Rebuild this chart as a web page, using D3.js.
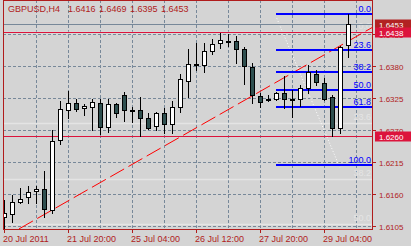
<!DOCTYPE html>
<html>
<head>
<meta charset="utf-8">
<script src="https://cdn.jsdelivr.net/npm/d3@7"></script>
<style>
body { margin: 0; background: #d4d4d4; }
svg { display: block; font-family: "Liberation Sans", Arial, sans-serif; }
</style>
</head>
<body>
<div id="chart"></div>
<script>
// GBPUSD H4 bars, oldest first
var opens  = [1.6120,1.6125,1.6147,1.6154,1.6165,1.6168,1.6132,1.6252,1.6304,1.6316,1.6307,1.6309,1.6316,1.6275,1.6314,1.6331,1.6304,1.6304,1.6290,1.6277,1.6299,1.6280,1.6310,1.6355,1.6383,1.6382,1.6406,1.6419,1.6423,1.6423,1.6410,1.6379,1.6329,1.6324,1.6324,1.6333,1.6323,1.6323,1.6342,1.6367,1.6350,1.6326,1.6273,1.6416];
var highs  = [1.6150,1.6158,1.6171,1.6173,1.6174,1.6200,1.6270,1.6320,1.6337,1.6324,1.6315,1.6323,1.6323,1.6323,1.6316,1.6335,1.6310,1.6326,1.6300,1.6301,1.6307,1.6319,1.6366,1.6410,1.6419,1.6419,1.6427,1.6436,1.6435,1.6432,1.6413,1.6385,1.6333,1.6330,1.6336,1.6362,1.6338,1.6347,1.6381,1.6373,1.6360,1.6330,1.6414,1.6469];
var lows   = [1.6102,1.6112,1.6144,1.6145,1.6145,1.6121,1.6128,1.6246,1.6291,1.6303,1.6295,1.6270,1.6263,1.6266,1.6293,1.6286,1.6284,1.6260,1.6271,1.6270,1.6264,1.6264,1.6301,1.6327,1.6373,1.6369,1.6401,1.6411,1.6414,1.6386,1.6349,1.6316,1.6310,1.6319,1.6322,1.6307,1.6293,1.6311,1.6333,1.6347,1.6322,1.6260,1.6265,1.6395];
var closes = [1.6128,1.6146,1.6151,1.6164,1.6168,1.6134,1.6251,1.6306,1.6316,1.6306,1.6311,1.6318,1.6275,1.6314,1.6299,1.6304,1.6304,1.6291,1.6274,1.6300,1.6280,1.6310,1.6357,1.6383,1.6383,1.6406,1.6418,1.6425,1.6423,1.6410,1.6380,1.6331,1.6318,1.6324,1.6333,1.6323,1.6321,1.6343,1.6370,1.6353,1.6324,1.6273,1.6413,1.6453];

var timeLabels = ["20 Jul 2011", "21 Jul 20:00", "25 Jul 04:00", "26 Jul 12:00", "27 Jul 20:00", "29 Jul 04:00"];
var timeLabelBars = [0, 8, 16, 24, 32, 40];
var priceTicks = [1.6105, 1.6160, 1.6215, 1.6270, 1.6325, 1.6380, 1.6435];

var headerText = ["GBPUSD,H4", "1.6416", "1.6469", "1.6395", "1.6453"];

var fibLevels = [0, 23.6, 38.2, 50.0, 61.8, 100.0];
var fibHigh = 1.6469, fibLow = 1.6210, fibStartBar = 34;
var ghostLevels = [0, 23.6, 38.2, 50.0];
var ghostHigh = 1.6438, ghostLow = 1.5778;
var ghostAnchors = [[34.1, 1.6462], [42, 1.6205]];

var bidPrice = 1.6453;
var hLinePrices = [1.6438, 1.6260];
var trendAnchors = [[1.875, 1.6100], [46, 1.6446]];

var W = 411, H = 246;
var plotLeft = 3, plotRight = 372, plotTop = 0, plotBottom = 229;
var axisColor = "#b01c1c";

var x = d3.scaleLinear().domain([0, 43]).range([4, 348]);
var y = d3.scaleLinear().domain([1.6105, 1.6435]).range([226, 34]);
function px(v) { return Math.round(v) + 0.5; }

var svg = d3.select("#chart").append("svg")
    .attr("width", W)
    .attr("height", H);

svg.append("rect").attr("width", W).attr("height", H).attr("fill", "#d4d4d4");

svg.append("defs").append("clipPath").attr("id", "plot")
    .append("rect").attr("x", plotLeft).attr("y", plotTop)
    .attr("width", plotRight - plotLeft).attr("height", plotBottom - plotTop);

var plot = svg.append("g").attr("clip-path", "url(#plot)");

// grid
var gridBars = d3.range(4, 48, 4);
plot.selectAll(".vgrid").data(gridBars).enter().append("line")
    .attr("x1", function (d) { return px(x(d)); })
    .attr("x2", function (d) { return px(x(d)); })
    .attr("y1", plotTop).attr("y2", plotBottom)
    .attr("stroke", "#778899").attr("stroke-dasharray", "3,2");

plot.selectAll(".hgrid").data(priceTicks).enter().append("line")
    .attr("x1", plotLeft).attr("x2", plotRight)
    .attr("y1", function (d) { return px(y(d)); })
    .attr("y2", function (d) { return px(y(d)); })
    .attr("stroke", "#778899").attr("stroke-dasharray", "3,2");

// old fibo, drawn nearly in background colour
var ghostColor = "#e4e4e4";
function ghostPrice(l) { return ghostHigh - (ghostHigh - ghostLow) * l / 100; }
plot.selectAll(".ghost").data(ghostLevels).enter().append("line")
    .attr("x1", plotLeft).attr("x2", plotRight)
    .attr("y1", function (d) { return px(y(ghostPrice(d))); })
    .attr("y2", function (d) { return px(y(ghostPrice(d))); })
    .attr("stroke", ghostColor).attr("stroke-width", 1.5);
plot.selectAll(".ghostlabel").data(ghostLevels).enter().append("text")
    .attr("x", 371)
    .attr("y", function (d) { return Math.round(y(ghostPrice(d))) - 3; })
    .attr("text-anchor", "end")
    .attr("font-size", 9)
    .attr("fill", ghostColor)
    .text(function (d) { return d.toFixed(1); });
plot.append("line")
    .attr("x1", x(ghostAnchors[0][0])).attr("y1", y(ghostAnchors[0][1]))
    .attr("x2", x(ghostAnchors[1][0])).attr("y2", y(ghostAnchors[1][1]))
    .attr("stroke", "#ffffff").attr("stroke-dasharray", "1,2");

// bid line
plot.append("line")
    .attr("x1", plotLeft).attr("x2", plotRight)
    .attr("y1", px(y(bidPrice))).attr("y2", px(y(bidPrice)))
    .attr("stroke", "#778899");

// horizontal lines
plot.selectAll(".hline").data(hLinePrices).enter().append("line")
    .attr("x1", plotLeft).attr("x2", plotRight)
    .attr("y1", function (d) { return px(y(d)); })
    .attr("y2", function (d) { return px(y(d)); })
    .attr("stroke", "#dc143c");

// trend line
plot.append("line")
    .attr("x1", x(trendAnchors[0][0])).attr("y1", y(trendAnchors[0][1]))
    .attr("x2", x(trendAnchors[1][0])).attr("y2", y(trendAnchors[1][1]))
    .attr("stroke", "#ff0000").attr("stroke-dasharray", "16,5");

// fibo
function fibPrice(l) { return fibHigh - (fibHigh - fibLow) * l / 100; }
plot.selectAll(".fib").data(fibLevels).enter().append("line")
    .attr("x1", x(fibStartBar)).attr("x2", plotRight)
    .attr("y1", function (d) { return Math.round(y(fibPrice(d))); })
    .attr("y2", function (d) { return Math.round(y(fibPrice(d))); })
    .attr("stroke", "#0000ff").attr("stroke-width", 2);
plot.selectAll(".fiblabel").data(fibLevels).enter().append("text")
    .attr("x", 371)
    .attr("y", function (d) { return Math.round(y(fibPrice(d))) - 2; })
    .attr("text-anchor", "end")
    .attr("font-size", 9)
    .attr("fill", "#0000ff")
    .text(function (d) { return d.toFixed(1); });

// candles
var bars = plot.selectAll(".bar").data(d3.range(opens.length)).enter().append("g");
bars.append("line")
    .attr("x1", function (i) { return px(x(i)); })
    .attr("x2", function (i) { return px(x(i)); })
    .attr("y1", function (i) { return Math.round(y(highs[i])); })
    .attr("y2", function (i) { return Math.round(y(lows[i])) + 1; })
    .attr("stroke", "#000");
bars.append("rect")
    .attr("x", function (i) { return Math.round(x(i)) - 1.5; })
    .attr("y", function (i) { return px(y(Math.max(opens[i], closes[i]))); })
    .attr("width", 4)
    .attr("height", function (i) {
        return Math.max(1, Math.round(y(Math.min(opens[i], closes[i]))) - Math.round(y(Math.max(opens[i], closes[i]))));
    })
    .attr("fill", function (i) {
        if (closes[i] > opens[i]) return "#ffffff";
        if (closes[i] < opens[i]) return "#2f4f4f";
        return "#000";
    })
    .attr("stroke", "#000");

// frame
var frame = svg.append("g").attr("stroke", axisColor).attr("fill", "none");
frame.append("line").attr("x1", plotLeft + 0.5).attr("x2", plotLeft + 0.5).attr("y1", plotTop).attr("y2", plotBottom + 1);
frame.append("line").attr("x1", plotRight + 0.5).attr("x2", plotRight + 0.5).attr("y1", plotTop).attr("y2", plotBottom + 1);
frame.append("line").attr("x1", plotLeft).attr("x2", plotRight + 1).attr("y1", plotBottom + 0.5).attr("y2", plotBottom + 0.5);
frame.append("line").attr("x1", plotLeft).attr("x2", plotRight + 1).attr("y1", plotTop + 0.5).attr("y2", plotTop + 0.5);

// time axis
var tAxis = svg.append("g");
tAxis.selectAll("line").data(timeLabelBars).enter().append("line")
    .attr("x1", function (d) { return px(x(d)); })
    .attr("x2", function (d) { return px(x(d)); })
    .attr("y1", plotBottom).attr("y2", plotBottom + 4)
    .attr("stroke", axisColor);
tAxis.selectAll("text").data(timeLabels).enter().append("text")
    .attr("x", function (d, i) { return Math.round(x(timeLabelBars[i])) - 1; })
    .attr("y", 242)
    .attr("font-size", 9)
    .attr("fill", axisColor)
    .text(function (d) { return d; });

// price axis
var pAxis = svg.append("g");
pAxis.selectAll("line").data(priceTicks).enter().append("line")
    .attr("x1", plotRight).attr("x2", plotRight + 4)
    .attr("y1", function (d) { return px(y(d)); })
    .attr("y2", function (d) { return px(y(d)); })
    .attr("stroke", axisColor);
pAxis.selectAll("text").data(priceTicks).enter().append("text")
    .attr("x", 379)
    .attr("y", function (d) { return Math.round(y(d)) + 3.5; })
    .attr("font-size", 8)
    .attr("fill", axisColor)
    .text(function (d) { return d.toFixed(4); });

// price tags
var tags = [{ p: bidPrice, c: "#b22222" }, { p: hLinePrices[0], c: "#dc143c" }, { p: hLinePrices[1], c: "#dc143c" }];
var tag = svg.selectAll(".tag").data(tags).enter().append("g");
tag.append("rect")
    .attr("x", 375)
    .attr("y", function (d) { return Math.round(y(d.p)) - 4.5; })
    .attr("width", 36).attr("height", 10)
    .attr("fill", function (d) { return d.c; });
tag.append("text")
    .attr("x", 379)
    .attr("y", function (d) { return Math.round(y(d.p)) + 3.5; })
    .attr("font-size", 8)
    .attr("fill", "#fff")
    .text(function (d) { return d.p.toFixed(4); });

// header
svg.selectAll(".hdr").data(headerText).enter().append("text")
    .attr("x", function (d, i) { return i === 0 ? 8 : 68 + 31 * (i - 1); })
    .attr("y", 12)
    .attr("font-size", 9)
    .attr("fill", axisColor)
    .text(function (d) { return d; });
</script>
</body>
</html>
